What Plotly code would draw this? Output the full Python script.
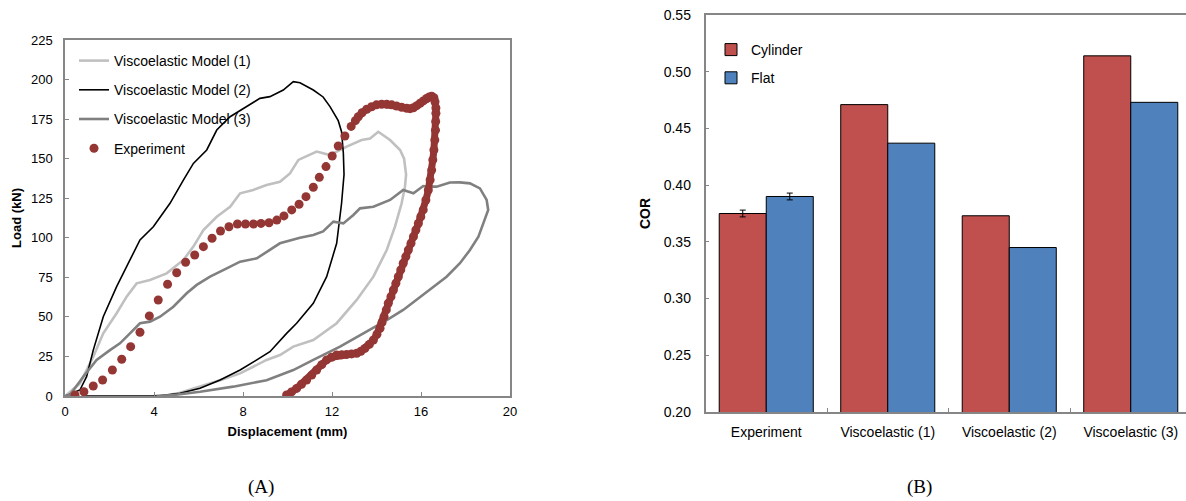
import plotly.graph_objects as go

# ---------------- Data: panel (A) load-displacement ----------------
m1_x = [0.0, 0.07, 0.67, 1.27, 1.72, 2.32, 2.77, 3.22, 3.82, 4.57, 5.32, 5.77, 6.22, 6.82, 7.42, 7.87, 8.46, 9.06, 9.66,
        10.11, 10.49, 11.31, 11.91, 12.66, 13.33, 13.71, 14.08, 14.3, 14.61, 15.06, 15.24, 15.33, 15.28, 15.13, 14.83,
        14.46, 13.86, 13.11, 12.21, 11.16, 10.26, 9.66, 9.06, 8.46, 7.87, 6.97, 6.07, 5.17, 4.57, 3.97]
m1_y = [0.0, 0.6, 8.0, 24.8, 39.6, 52.3, 62.8, 71.2, 73.3, 77.5, 86.0, 94.4, 104.9, 113.3, 119.6, 128.1, 130.2, 133.4, 135.4,
        140.7, 149.2, 154.5, 152.3, 157.6, 161.8, 162.8, 167.0, 165.0, 161.8, 155.5, 150.0, 140.0, 132.3, 121.8, 107.0,
        92.3, 75.4, 60.7, 46.0, 35.4, 31.2, 25.9, 22.8, 18.5, 14.3, 10.0, 6.0, 2.0, 0.4, 0.0]

m2_x = [0.0, 0.67, 0.97, 1.27, 1.72, 2.32, 2.92, 3.37, 3.97, 4.72, 5.32, 5.77, 6.37, 6.82, 7.42, 8.16, 8.76, 9.21, 9.81,
        10.26, 10.56, 11.16, 11.6, 11.91, 12.28, 12.43, 12.51, 12.54, 12.43, 12.21, 11.76, 11.16, 10.41, 9.96, 9.21,
        8.62, 7.87, 6.97, 6.07, 5.17, 4.27, 3.7, 0.9]
m2_y = [0.0, 3.8, 12.2, 29.0, 50.1, 69.1, 86.0, 98.6, 107.0, 121.8, 136.5, 147.0, 155.5, 168.1, 176.5, 182.9, 188.1, 189.2, 193.4,
        198.7, 198.0, 193.4, 189.0, 182.9, 174.0, 167.0, 153.4, 140.0, 121.8, 96.5, 75.4, 58.6, 46.0, 39.6, 28.0,
        22.8, 16.4, 10.1, 4.9, 1.7, 0.2, 0.0, 0.0]

m3_x = [0.0, 0.22, 0.82, 1.42, 2.02, 2.47, 2.92, 3.37, 3.82, 4.27, 4.87, 5.47, 5.92, 6.52, 7.27, 7.87, 8.62, 9.06, 9.66,
        10.56, 11.16, 11.6, 12.06, 12.51, 12.96, 13.26, 13.86, 14.61, 15.2, 15.66, 16.1, 16.4, 16.7, 17.3, 17.75, 18.2,
        18.65, 18.95, 19.02, 18.8, 18.58, 18.2, 17.75, 17.15, 16.55, 15.96, 15.2, 14.46, 13.41, 12.36, 11.16, 10.26,
        9.06, 7.56, 6.07, 4.87, 4.12]
m3_y = [0.0, 0.6, 12.2, 22.8, 29.0, 33.3, 39.6, 46.0, 47.0, 50.1, 56.4, 64.9, 70.2, 75.4, 80.7, 84.9, 87.0, 91.2, 96.5,
        100.0, 101.8, 104.0, 110.2, 109.1, 114.4, 118.6, 119.6, 123.9, 130.2, 128.1, 132.7, 132.3, 132.3, 134.9, 135.0, 134.4,
        131.2, 123.9, 117.6, 109.1, 100.7, 92.3, 83.9, 75.4, 69.1, 62.8, 54.4, 48.0, 39.6, 31.2, 22.8, 16.4,
        10.0, 5.9, 2.7, 0.6, 0.0]

exp_load_x = [0.45, 0.85, 1.27, 1.69, 2.13, 2.55, 2.95, 3.37, 3.79, 4.19, 4.61, 5.02, 5.42, 5.83, 6.22, 6.61, 6.99, 7.37,
              7.75, 8.11, 8.47, 8.81, 9.17, 9.52, 9.84, 10.19, 10.52, 10.83, 11.16, 11.43, 11.73, 12.01, 12.28, 12.58, 12.86]
exp_load_y = [0.6, 2.7, 6.3, 10.1, 16.4, 23.2, 31.2, 40.3, 50.6, 60.7, 70.6, 77.9, 84.5, 89.1, 94.4, 99.7, 104.3, 107.0,
              108.7, 108.7, 108.7, 109.1, 109.5, 111.2, 113.8, 117.6, 121.2, 126.0, 131.9, 138.2, 145.0, 151.7, 158.0, 164.3, 170.4]

exp_unload_x = [13.05, 13.18, 13.35, 13.56, 13.78, 14.0, 14.23, 14.46, 14.68, 14.9, 15.13, 15.36, 15.51, 15.66, 15.81, 15.96,
                16.1, 16.25, 16.37, 16.48, 16.58, 16.63, 16.67, 16.67, 16.66, 16.65, 16.62, 16.58, 16.53, 16.48, 16.41,
                16.33, 16.22, 16.1, 15.99, 15.88, 15.77, 15.66, 15.55, 15.43, 15.32, 15.2, 15.09, 14.98, 14.87, 14.76,
                14.65, 14.53, 14.44, 14.34, 14.25, 14.16, 14.02, 13.86, 13.68, 13.48, 13.3, 13.11, 12.88, 12.66, 12.44,
                12.21, 11.98, 11.76, 11.54, 11.31, 11.09, 10.86, 10.63, 10.41, 10.18, 9.96]
exp_unload_y = [174.0, 176.5, 179.0, 181.2, 182.8, 184.0, 184.4, 184.4, 184.0, 183.3, 182.5, 181.8, 181.6, 182.2, 183.5, 185.0,
                186.5, 188.0, 189.0, 189.5, 188.5, 186.0, 182.0, 178.7, 173.5, 168.0, 161.8, 155.5, 149.2, 142.8, 136.5,
                130.2, 123.9, 117.6, 113.3, 109.0, 104.9, 100.7, 96.5, 92.3, 88.1, 83.9, 79.7, 75.4, 71.2, 67.0,
                62.8, 58.6, 54.4, 50.1, 46.5, 42.8, 39.0, 35.4, 32.6, 30.1, 28.3, 27.0, 26.6, 26.3, 26.1,
                25.9, 24.5, 22.8, 19.8, 16.4, 13.2, 10.1, 7.4, 4.8, 2.6, 0.6]

# ---------------- Data: panel (B) COR ----------------
cor_categories = ["Experiment", "Viscoelastic (1)", "Viscoelastic (2)", "Viscoelastic (3)"]
cor_cylinder = [0.375, 0.471, 0.373, 0.514]
cor_flat = [0.390, 0.437, 0.345, 0.473]
err_category = "Experiment"
err_cylinder = 0.003
err_flat = 0.003

W, H = 1186, 501
FONT = "Liberation Sans, Arial, sans-serif"
SERIF = "Liberation Serif, Times New Roman, serif"


def px(xp):
    return xp / W


def py(yp):
    return 1 - yp / H


BARGAP = 0.226
bar_w = (1 - BARGAP) / 2
cat_pos = list(range(len(cor_categories)))
err_idx = cor_categories.index(err_category)

fig = go.Figure()

fig.add_trace(go.Scatter(x=m1_x, y=m1_y, mode="lines", name="Viscoelastic Model (1)",
                         line=dict(color="#c0c0c0", width=2.6), legend="legend", legendgroup="a"))
fig.add_trace(go.Scatter(x=m2_x, y=m2_y, mode="lines", name="Viscoelastic Model (2)",
                         line=dict(color="#000000", width=1.6), legend="legend", legendgroup="b"))
fig.add_trace(go.Scatter(x=m3_x, y=m3_y, mode="lines", name="Viscoelastic Model (3)",
                         line=dict(color="#808080", width=2.6), legend="legend", legendgroup="c"))
fig.add_trace(go.Scatter(x=exp_load_x, y=exp_load_y, mode="markers", name="Experiment",
                         marker=dict(color="#943634", size=9), legend="legend", legendgroup="d"))
fig.add_trace(go.Scatter(x=exp_unload_x, y=exp_unload_y, mode="lines+markers", name="Experiment",
                         showlegend=False, line=dict(color="#943634", width=7),
                         marker=dict(color="#943634", size=9), legendgroup="d"))

fig.add_trace(go.Bar(x=cat_pos, y=cor_cylinder, name="Cylinder", xaxis="x2", yaxis="y2",
                     marker=dict(color="#C0504D", line=dict(color="#000000", width=1)),
                     legend="legend2", legendgroup="e"))
fig.add_trace(go.Bar(x=cat_pos, y=cor_flat, name="Flat", xaxis="x2", yaxis="y2",
                     marker=dict(color="#4F81BD", line=dict(color="#000000", width=1)),
                     legend="legend2", legendgroup="f"))
# error bars only for the experiment group
fig.add_trace(go.Scatter(x=[err_idx - bar_w / 2, err_idx + bar_w / 2],
                         y=[cor_cylinder[err_idx], cor_flat[err_idx]],
                         mode="markers", marker=dict(size=1, color="rgba(0,0,0,0)"),
                         error_y=dict(type="data", array=[err_cylinder, err_flat], color="#000000",
                                      thickness=1, width=3),
                         xaxis="x2", yaxis="y2", showlegend=False, hoverinfo="skip"))

axis_line = "#868686"
tickfont = dict(family=FONT, size=13, color="#000000")
titlefont = dict(family=FONT, size=13, color="#000000", weight="bold")

group_w = 121.5
fig.update_layout(
    width=W, height=H,
    margin=dict(l=0, r=0, t=0, b=0, autoexpand=False),
    paper_bgcolor="white", plot_bgcolor="white",
    font=dict(family=FONT, size=13, color="#000000"),
    barmode="group", bargap=BARGAP, bargroupgap=0,
    xaxis=dict(domain=[px(65), px(510)], range=[0, 20], dtick=4, tick0=0, automargin=False,
               showline=True, mirror=True, linecolor=axis_line, linewidth=1.5,
               ticks="inside", ticklen=4, tickcolor=axis_line, showgrid=False, zeroline=False,
               tickfont=tickfont, ticklabelstandoff=3,
               title=dict(text="Displacement (mm)", font=titlefont, standoff=9)),
    yaxis=dict(domain=[py(396), py(40)], range=[0, 225], dtick=25, tick0=0, automargin=False,
               showline=True, mirror=True, linecolor=axis_line, linewidth=1.5,
               ticks="inside", ticklen=4, tickcolor=axis_line, showgrid=False, zeroline=False,
               tickfont=tickfont, ticklabelstandoff=8,
               title=dict(text="Load (kN)", font=titlefont, standoff=6)),
    xaxis2=dict(domain=[px(705.5), 1.0], anchor="y2", automargin=False,
                range=[-0.5, -0.5 + (1186 - 705.5) / group_w],
                tickmode="array", tickvals=cat_pos, ticktext=cor_categories, ticks="",
                minor=dict(tickmode="array", tickvals=[p + 0.5 for p in cat_pos[:-1]],
                           ticks="inside", ticklen=4, tickcolor=axis_line, showgrid=False),
                showline=True, mirror=True, linecolor=axis_line, linewidth=1.5,
                showgrid=False, zeroline=False,
                tickfont=dict(family=FONT, size=14, color="#000000"), ticklabelstandoff=6),
    yaxis2=dict(domain=[py(412), py(15)], anchor="x2", range=[0.20, 0.55], dtick=0.05, tick0=0.2,
                tickformat=".2f", automargin=False,
                showline=True, mirror=False, linecolor=axis_line, linewidth=1.5,
                ticks="inside", ticklen=4, tickcolor=axis_line, showgrid=False, zeroline=False,
                tickfont=dict(family=FONT, size=14, color="#000000"), ticklabelstandoff=10,
                title=dict(text="COR", font=dict(family=FONT, size=14, color="#000000", weight="bold"),
                           standoff=10)),
    legend=dict(x=px(74), y=py(45), xanchor="left", yanchor="top",
                bgcolor="rgba(0,0,0,0)", font=dict(family=FONT, size=14, color="#000000"),
                tracegroupgap=8, itemwidth=30),
    legend2=dict(x=px(711), y=py(34), xanchor="left", yanchor="top",
                 bgcolor="rgba(0,0,0,0)", font=dict(family=FONT, size=14, color="#000000"),
                 tracegroupgap=7, itemwidth=30),
    annotations=[
        dict(text="(A)", x=px(261), y=py(487), xref="paper", yref="paper", showarrow=False,
             xanchor="center", yanchor="middle",
             font=dict(family=SERIF, size=19, color="#000000")),
        dict(text="(B)", x=px(919), y=py(487), xref="paper", yref="paper", showarrow=False,
             xanchor="center", yanchor="middle",
             font=dict(family=SERIF, size=19, color="#000000")),
    ],
)

fig.write_html("out.html", config={"displayModeBar": False},
               post_script="document.body.style.margin='0';document.body.style.overflow='hidden';")
